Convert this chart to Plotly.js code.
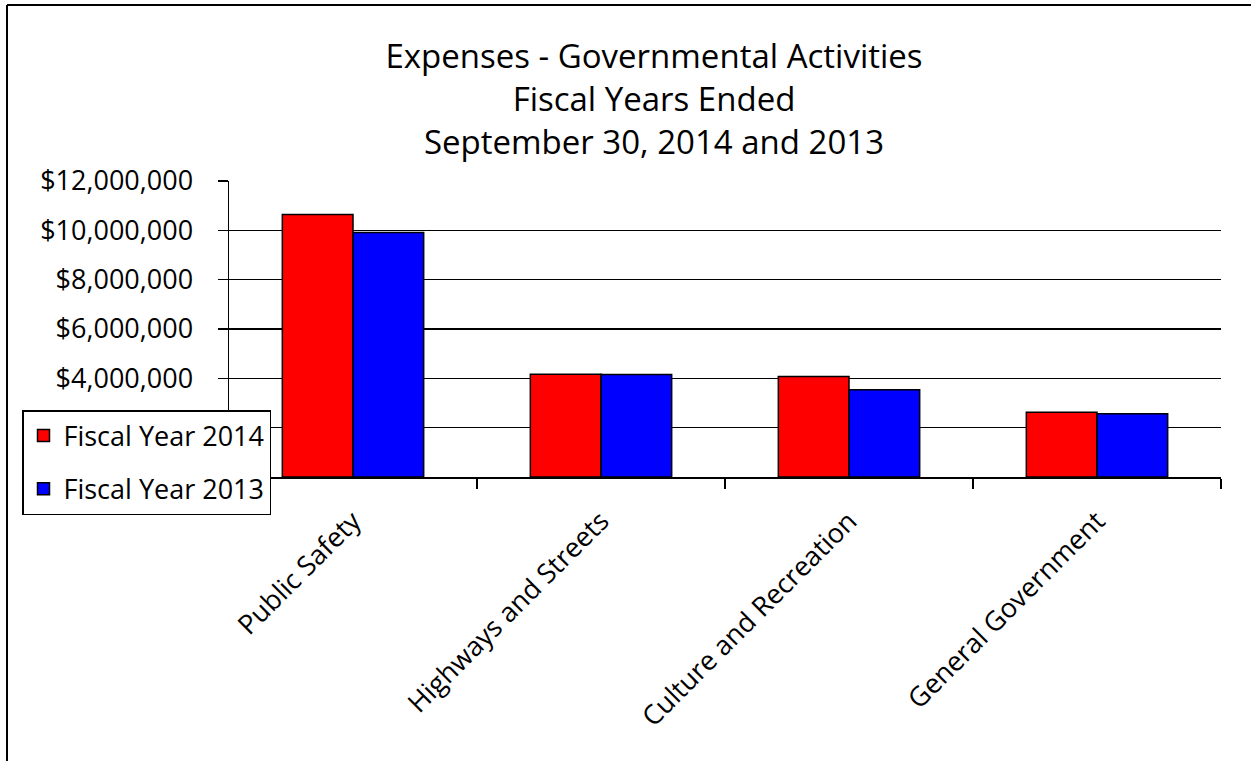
<!DOCTYPE html>
<html>
<head>
<meta charset="utf-8">
<script src="https://cdn.plot.ly/plotly-3.0.1.min.js"></script>
<style>html,body{margin:0;padding:0;background:#fff;}#chart{width:1251px;height:761px;}</style>
</head>
<body>
<div id="chart"></div>
<script>
const categories = ["Public Safety", "Highways and Streets", "Culture and Recreation", "General Government"];
const fy2014 = [10640000, 4170000, 4070000, 2630000];
const fy2013 = [9910000, 4160000, 3540000, 2560000];
const seriesNames = ["Fiscal Year 2014", "Fiscal Year 2013"];
const titleLines = ["Expenses - Governmental Activities", "Fiscal Years Ended", "September 30, 2014 and 2013"];
// $0 and $2,000,000 sit behind the legend box in the reference
const yTickVals = [0, 2000000, 4000000, 6000000, 8000000, 10000000, 12000000];
const yTickText = ["", "", "$4,000,000", "$6,000,000", "$8,000,000", "$10,000,000", "$12,000,000"];

const FONT = "Open Sans, Noto Sans, sans-serif";

const L = 229, R = 30, T = 181, B = 284, W = 1251, H = 761;
const pw = W - L - R, ph = H - T - B;
const px = x => (x - L) / pw;
const py = y => (H - B - y) / ph;

const traces = [
  {type: "bar", name: seriesNames[0], x: categories, y: fy2014, legendgroup: "a",
   marker: {color: "#ff0000", line: {color: "#000", width: 1.5}}},
  {type: "bar", name: seriesNames[1], x: categories, y: fy2013, legendgroup: "b",
   marker: {color: "#0000ff", line: {color: "#000", width: 1.5}}}
];

const layout = {
  width: W, height: H,
  margin: {l: L, r: R, t: T, b: B, pad: 0},
  paper_bgcolor: "#fff", plot_bgcolor: "#fff",
  font: {family: FONT, color: "#000", size: 27},
  title: {text: titleLines.join("<br>"), x: 654 / W, xref: "container", xanchor: "center",
          y: 1 - 68 / H, yref: "container", yanchor: "top",
          font: {family: FONT, size: 33, color: "#000"}},
  barmode: "group", bargap: 0.43, bargroupgap: 0,
  showlegend: true,
  legend: {x: px(22), y: py(410), xanchor: "left", yanchor: "top",
           bgcolor: "#fff", bordercolor: "#000", borderwidth: 1.5,
           font: {family: FONT, size: 27, color: "#000"},
           traceorder: "grouped", tracegroupgap: 15},
  xaxis: {type: "category", showline: true, linecolor: "#000", linewidth: 1.5,
          ticks: "outside", tickson: "boundaries", ticklen: 10, tickcolor: "#000", tickwidth: 1.5,
          tickangle: -45, ticklabelstandoff: 16, showgrid: false,
          tickfont: {family: FONT, size: 27, color: "#000"}},
  yaxis: {range: [0, 12000000], tickvals: yTickVals, ticktext: yTickText,
          showline: true, linecolor: "#000", linewidth: 1.5,
          ticks: "outside", ticklen: 10, tickcolor: "#000", tickwidth: 1.5,
          showgrid: true, gridcolor: "#000", gridwidth: 1.5, zeroline: false,
          ticklabelstandoff: 19,
          tickfont: {family: FONT, size: 27, color: "#000"}},
  shapes: [
    {type: "line", xref: "paper", yref: "paper", x0: px(7), x1: px(W + 5), y0: py(5), y1: py(5),
     line: {color: "#000", width: 2}},
    {type: "line", xref: "paper", yref: "paper", x0: px(7), x1: px(7), y0: py(5), y1: py(H + 5),
     line: {color: "#000", width: 2}}
  ]
};

Plotly.newPlot("chart", traces, layout, {displayModeBar: false, staticPlot: true});
</script>
</body>
</html>
